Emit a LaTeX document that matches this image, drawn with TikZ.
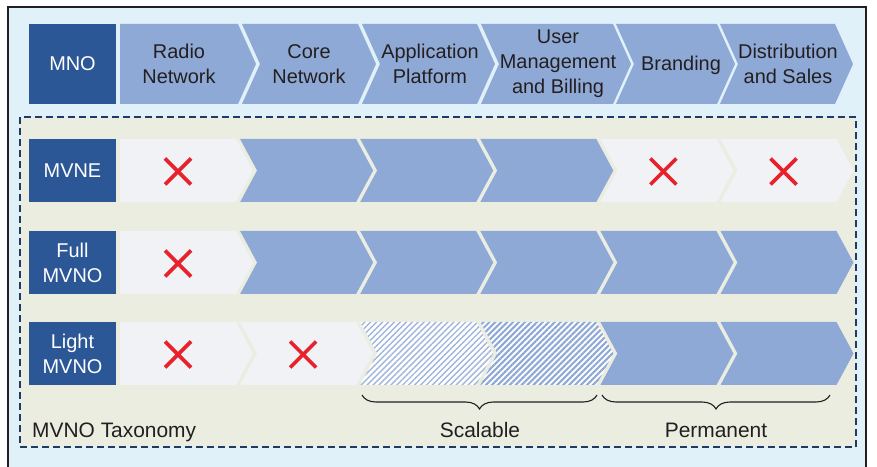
\documentclass[tikz,border=0pt]{standalone}
\usepackage{fontspec}
\setmainfont{Liberation Sans}
\usetikzlibrary{decorations.pathreplacing,patterns.meta}

\definecolor{mnoblue}{HTML}{2C5796}
\definecolor{chevblue}{HTML}{8FA9D6}
\definecolor{chevgray}{HTML}{F1F2F5}
\definecolor{panelbg}{HTML}{EAEDE0}
\definecolor{outerbg}{HTML}{E0F1FA}
\definecolor{dashnavy}{HTML}{1F3A64}
\definecolor{crossred}{HTML}{E8212B}
\definecolor{textgray}{HTML}{231F20}

\begin{document}
\begin{tikzpicture}[x=1bp, y=-1bp,
        bigfont/.style={font=\fontsize{20}{25}\selectfont},
        mnobox/.style={bigfont, fill=mnoblue, text=white, align=center, inner sep=0pt,
                minimum width=87bp},
        toptext/.style={bigfont, text=textgray, align=center, inner sep=0pt},
        bottomtext/.style={font=\fontsize{21}{25}\selectfont, text=textgray, inner sep=0pt},
        oncell/.style={fill=chevblue},
        offcell/.style={fill=chevgray},
        hatchcell/.style={fill=white, postaction={pattern={Lines[angle=45, distance=4.2bp, line width=1.4bp]}, pattern color=chevblue!85}},
        densecell/.style={fill=white, postaction={pattern={Lines[angle=45, distance=4.2bp, line width=2.1bp]}, pattern color=chevblue}},
        cross/.style={draw=crossred, line width=3.6bp},
        curly/.style={draw=textgray, line width=1.1bp, decorate, decoration={brace, mirror, amplitude=14bp}}
    ]
    \useasboundingbox (0,0) rectangle (877,467);
    % outer frame and taxonomy panel
    \draw[fill=outerbg, draw=textgray, line width=1.2bp] (8,7) rectangle (866,472);
    \draw[fill=panelbg, draw=dashnavy, line width=1.8bp, dash pattern=on 7bp off 4bp] (20,117) rectangle (856,447);

    % value chain
    \node[mnobox, minimum height=80bp] (mno) at (72.5,64) {MNO};
    \foreach \l/\r/\n in {120/238/0, 242/358/1, 362/477/1, 481/613/1, 616/717/1, 720/835/1} {
            \fill[oncell] (\l,24) -- (\r,24) -- (\r+18,64) -- (\r,104) -- (\l,104) -- (\l+18*\n,64) -- cycle;
        }
    \node[toptext] (radio) at (179,64) {Radio\\Network};
    \node[toptext] (core) at (309,64) {Core\\Network};
    \node[toptext] (platform) at (430,64) {Application\\Platform};
    \node[toptext] (billing) at (558,64) {User\\Management\\and Billing};
    \node[toptext] (branding) at (681,65) {Branding};
    \node[toptext] (sales) at (788,64) {Distribution\\and Sales};

    % operator rows
    \foreach \row/\yt/\cells in {mvne/139/{offcell,oncell,oncell,oncell,offcell,offcell},
            full/231/{offcell,oncell,oncell,oncell,oncell,oncell},
            light/322/{offcell,offcell,hatchcell,densecell,oncell,oncell}} {
            \foreach \c [count=\k from 0] in \cells {
                    \pgfmathsetmacro\l{120+120.1*\k}
                    \pgfmathsetmacro\r{\l+116}
                    \pgfmathsetmacro\n{\k>0}
                    \fill[\c] (\l,\yt) -- (\r,\yt) -- (\r+17,\yt+31.5) -- (\r,\yt+63) -- (\l,\yt+63) -- (\l+17*\n,\yt+31.5) -- cycle;
                    \coordinate (\row-\k) at ({(\l+\r)/2+5*\n},\yt+32.5);
                }
        }
    \node[mnobox, minimum height=63bp] (mvne) at (72.5,170.5) {MVNE};
    \node[mnobox, minimum height=63bp] (full) at (72.5,262.5) {Full\\MVNO};
    \node[mnobox, minimum height=63bp] (light) at (72.5,353.5) {Light\\MVNO};

    % missing layers
    \foreach \p in {mvne-0, mvne-4, mvne-5, full-0, light-0, light-1} {
            \draw[cross] (\p) +(-13,-13) -- +(13,13) +(-13,13) -- +(13,-13);
        }

    % scalable and permanent parts
    \coordinate (scal-a) at (362,395);
    \coordinate (scal-b) at (597,395);
    \coordinate (perm-a) at (602,395);
    \coordinate (perm-b) at (830,395);
    \draw[curly] (scal-a) -- (scal-b);
    \draw[curly] (perm-a) -- (perm-b);
    \node[bottomtext, anchor=base] (scalable) at (480,437) {Scalable};
    \node[bottomtext, anchor=base] (permanent) at (716,437) {Permanent};
    \node[bottomtext, anchor=base west] (taxonomy) at (32,437) {MVNO Taxonomy};
\end{tikzpicture}
\end{document}
